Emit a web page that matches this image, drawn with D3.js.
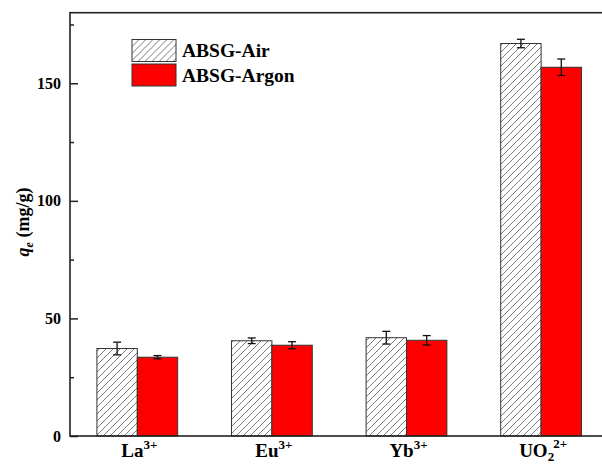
<!DOCTYPE html>
<html>
<head>
<meta charset="utf-8">
<script src="https://cdn.jsdelivr.net/npm/d3@7"></script>
<style>
  body { margin: 0; background: #fff; }
  svg { display: block; overflow: hidden; }
  text { font-family: "Liberation Serif", "Times New Roman", serif; font-weight: bold; fill: #000; }
</style>
</head>
<body>
<div id="chart"></div>
<script>
const categories = ["La", "Eu", "Yb", "UO"];
const series = ["ABSG-Air", "ABSG-Argon"];
const airValues = [37.2, 40.5, 41.8, 166.9];
const airErrors = [2.7, 1.2, 2.7, 1.8];
const argonValues = [33.5, 38.6, 40.7, 156.8];
const argonErrors = [0.7, 1.5, 2.0, 3.5];
const yTicks = [0, 50, 100, 150];

const W = 602, H = 464;
const margin = {top: 12.7, left: 70};
const plotRight = 608.4, plotBottom = 436;

const svg = d3.select("#chart").append("svg")
  .attr("width", W).attr("height", H);

const defs = svg.append("defs");
const pat = defs.append("pattern")
  .attr("id", "hatch")
  .attr("patternUnits", "userSpaceOnUse")
  .attr("width", 7).attr("height", 7);
pat.append("rect").attr("width", 7).attr("height", 7).attr("fill", "#fff");
pat.append("path")
  .attr("d", "M-1,1 l2,-2 M0,7 l7,-7 M6,8 l2,-2")
  .attr("stroke", "#6a6a6a").attr("stroke-width", 0.9);

const x0 = d3.scaleBand()
  .domain(categories)
  .range([margin.left, plotRight])
  .paddingInner(0.4)
  .paddingOuter(0.2);

const x1 = d3.scaleBand()
  .domain(series)
  .range([0, x0.bandwidth()]);

const y = d3.scaleLinear()
  .domain([0, 180])
  .range([plotBottom, margin.top]);

const rows = categories.map((c, i) => [
  {cat: c, s: series[0], v: airValues[i], e: airErrors[i]},
  {cat: c, s: series[1], v: argonValues[i], e: argonErrors[i]}
]).flat();

const fills = {"ABSG-Air": "url(#hatch)", "ABSG-Argon": "#ff0000"};

svg.selectAll(".bar")
  .data(rows)
  .enter().append("rect")
  .attr("class", "bar")
  .attr("x", d => x0(d.cat) + x1(d.s))
  .attr("width", x1.bandwidth())
  .attr("y", d => y(d.v))
  .attr("height", d => y(0) - y(d.v))
  .attr("fill", d => fills[d.s])
  .attr("stroke", "#333")
  .attr("stroke-width", 1);

// error bars
const eb = svg.selectAll(".err")
  .data(rows)
  .enter().append("g")
  .attr("class", "err")
  .attr("stroke", "#111")
  .attr("stroke-width", 1.3);
const cx = d => x0(d.cat) + x1(d.s) + x1.bandwidth() / 2;
eb.append("line")
  .attr("x1", cx).attr("x2", cx)
  .attr("y1", d => y(d.v + d.e)).attr("y2", d => y(d.v - d.e));
eb.append("line")
  .attr("x1", d => cx(d) - 4).attr("x2", d => cx(d) + 4)
  .attr("y1", d => y(d.v + d.e)).attr("y2", d => y(d.v + d.e));
eb.append("line")
  .attr("x1", d => cx(d) - 4).attr("x2", d => cx(d) + 4)
  .attr("y1", d => y(d.v - d.e)).attr("y2", d => y(d.v - d.e));

// frame
svg.append("rect")
  .attr("x", margin.left).attr("y", margin.top)
  .attr("width", plotRight - margin.left)
  .attr("height", plotBottom - margin.top)
  .attr("fill", "none").attr("stroke", "#222").attr("stroke-width", 1.6);

// y axis with inward ticks
const yAxis = svg.append("g")
  .attr("transform", `translate(${margin.left},0)`)
  .call(d3.axisRight(y).tickValues(yTicks).tickSize(8).tickFormat(""));
yAxis.select(".domain").remove();
yAxis.selectAll("line").attr("stroke", "#222").attr("stroke-width", 1.5);
const yMinor = svg.append("g")
  .attr("transform", `translate(${margin.left},0)`)
  .call(d3.axisRight(y).tickValues([25, 75, 125, 175]).tickSize(4).tickFormat(""));
yMinor.select(".domain").remove();
yMinor.selectAll("line").attr("stroke", "#222").attr("stroke-width", 1.5);

svg.selectAll(".ylab")
  .data(yTicks)
  .enter().append("text")
  .attr("class", "ylab")
  .attr("x", margin.left - 9)
  .attr("y", d => y(d) + 5.5)
  .attr("text-anchor", "end")
  .attr("font-size", 16)
  .text(d => d);

// x labels
const sups = ["3+", "3+", "3+", "2+"];
categories.forEach((c, i) => {
  const t = svg.append("text")
    .attr("x", x0(c) + x0.bandwidth() / 2 + 2)
    .attr("y", 457)
    .attr("text-anchor", "middle")
    .attr("font-size", 19);
  t.append("tspan").text(c);
  if (c === "UO") {
    t.append("tspan").attr("font-size", 13).attr("dy", 4).text("2");
    t.append("tspan").attr("font-size", 13).attr("dx", -1).attr("dy", -13).text(sups[i]);
  } else {
    t.append("tspan").attr("font-size", 13).attr("dy", -8).text(sups[i]);
  }
});

// y title
const yt = svg.append("text")
  .attr("transform", "translate(29,222) rotate(-90)")
  .attr("text-anchor", "middle")
  .attr("font-size", 18);
yt.append("tspan").attr("font-style", "italic").text("q");
yt.append("tspan").attr("font-style", "italic").attr("font-size", 12).attr("dy", 4).text("e");
yt.append("tspan").attr("dy", -4).text(" (mg/g)");

// legend
const legend = svg.selectAll(".leg")
  .data(series)
  .enter().append("g")
  .attr("class", "leg")
  .attr("transform", (d, i) => `translate(132,${39.5 + i * 24.5})`);
legend.append("rect")
  .attr("width", 44).attr("height", 22)
  .attr("fill", d => fills[d])
  .attr("stroke", "#333").attr("stroke-width", 1);
legend.append("text")
  .attr("x", 50).attr("y", 17.5)
  .attr("font-size", 19.5)
  .text(d => d);
</script>
</body>
</html>
